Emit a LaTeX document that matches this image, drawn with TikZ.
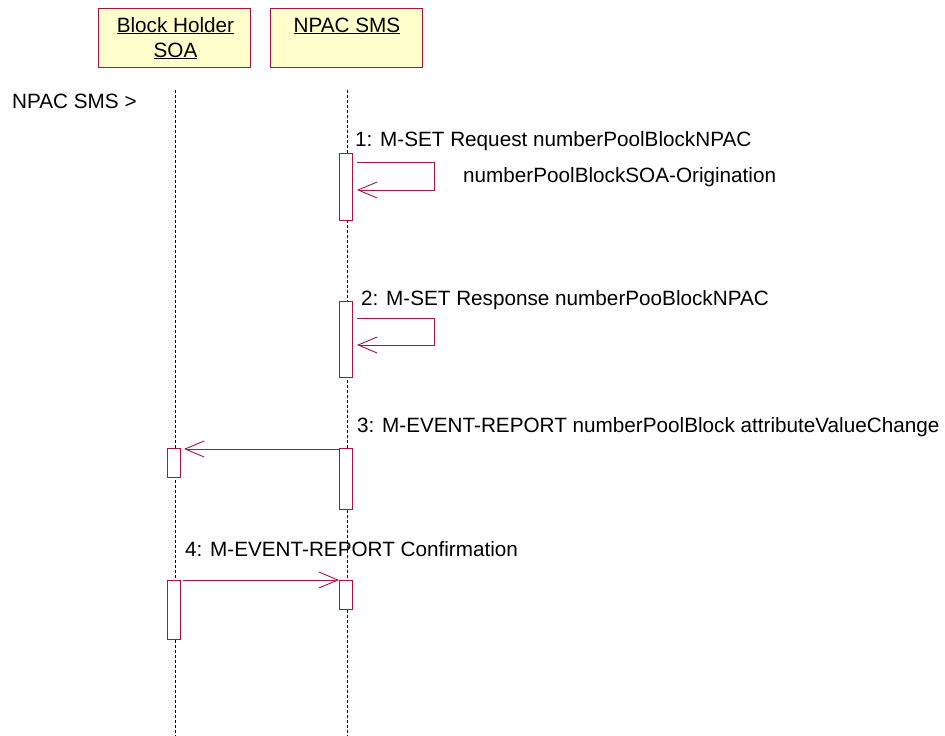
\documentclass[tikz,border=0pt]{standalone}
\usepackage{fontspec}
\setmainfont{Liberation Sans}
\usetikzlibrary{arrows.meta,positioning}
\definecolor{umlred}{RGB}{165,20,70}
\definecolor{umlyellow}{RGB}{255,255,204}
\tikzstyle{head}=[draw=umlred,fill=umlyellow,line width=0.9pt,minimum width=152pt,minimum height=59pt,inner sep=0pt]
\tikzstyle{act}=[draw=umlred,fill=white,line width=0.9pt,minimum width=13pt,inner sep=0pt,anchor=north]
\tikzstyle{life}=[black,line width=0.6pt,dash pattern=on 3pt off 2pt]
\tikzstyle{msg}=[umlred,line width=0.9pt,-{Straight Barb[length=19pt,width=16pt,line width=0.9pt]}]
\tikzstyle{txt}=[inner sep=0pt,anchor=base west]

\begin{document}
\begin{tikzpicture}[x=1pt,y=-1pt,font=\fontsize{20.7}{25}\selectfont]
	\useasboundingbox (0,0) rectangle (945,736);
	\node[head] (soa) at (174,37.5) {};
	\node[head] (npac) at (346,37.5) {};
	\node[inner sep=0pt,anchor=base] (soat1) at (175.5,32) {\underline{Block Holder}};
	\node[inner sep=0pt,anchor=base] (soat2) at (175.5,57) {\underline{SOA}};
	\node[inner sep=0pt,anchor=base] (npact) at (347,32) {\underline{NPAC SMS}};
	\node[txt] (who) at (12,108) {NPAC SMS >};
	\coordinate (soatop) at (175,90);
	\coordinate (soabot) at (175,736);
	\coordinate (npactop) at (347,90);
	\coordinate (npacbot) at (347,736);
	\draw[life] (soatop) -- (soabot);
	\draw[life] (npactop) -- (npacbot);

	\node[act,minimum height=67pt] (a1) at (346,153) {};
	\node[txt] (m1) at (355,146) {1: M-SET Request numberPoolBlockNPAC};
	\node[txt] (m1b) at (463,182) {numberPoolBlockSOA-Origination};
	\draw[msg] ([shift={(4,9)}]a1.north east) -- ++(77,0) -- ++(0,28) -- ++(-77,0);

	\node[act,minimum height=76pt] (a2) at (346,301) {};
	\node[txt] (m2) at (361,305) {2: M-SET Response numberPooBlockNPAC};
	\draw[msg] ([shift={(4,17)}]a2.north east) -- ++(77,0) -- ++(0,27) -- ++(-77,0);

	\node[act,minimum height=61pt] (a3r) at (346,448) {};
	\node[act,minimum height=29pt] (a3l) at (174,448) {};
	\node[txt] (m3) at (357,432.5) {3: M-EVENT-REPORT numberPoolBlock attributeValueChange};
	\draw[msg] ([shift={(0,1)}]a3r.north west) -- ([shift={(3,1)}]a3l.north east);

	\node[act,minimum height=59pt] (a4l) at (173.5,580) {};
	\node[act,minimum height=29pt] (a4r) at (346,580) {};
	\node[txt] (m4) at (185,556) {4: M-EVENT-REPORT Confirmation};
	\draw[msg] ([xshift=3pt]a4l.north east) -- (a4r.north west);
\end{tikzpicture}
\end{document}
